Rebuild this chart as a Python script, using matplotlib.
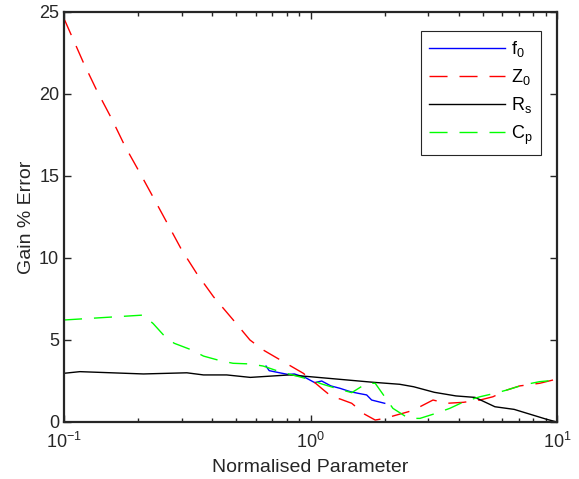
import matplotlib
matplotlib.use("Agg")
import matplotlib.pyplot as plt
from matplotlib.ticker import LogLocator, FixedLocator, NullFormatter

plt.rcParams["font.family"] = ["Liberation Sans", "DejaVu Sans"]
plt.rcParams["mathtext.fontset"] = "custom"
plt.rcParams["mathtext.rm"] = "Liberation Sans"
plt.rcParams["mathtext.it"] = "Liberation Sans"
plt.rcParams["axes.unicode_minus"] = False

# Data
f0_x = [0.66, 0.68, 0.75, 0.81, 0.86, 0.95, 1.04, 1.11, 1.21, 1.32, 1.45, 1.56, 1.69, 1.77, 2.0]
f0_y = [3.41, 3.13, 3.0, 2.9, 2.93, 2.72, 2.40, 2.5, 2.2, 2.05, 1.85, 1.75, 1.65, 1.34, 1.14]

z0_x = [0.1, 0.12, 0.136, 0.156, 0.177, 0.203, 0.234, 0.265, 0.3, 0.345, 0.404, 0.486,
        0.568, 0.643, 0.775, 0.935, 1.03, 1.13, 1.22, 1.32, 1.47, 1.66, 1.83, 2.0, 2.24,
        2.5, 2.78, 3.14, 3.57, 4.17, 4.87, 5.5, 6.26, 7.06, 8.5, 10.0]
z0_y = [24.6, 21.9, 20.2, 18.5, 16.8, 15.2, 13.5, 12.0, 10.5, 9.07, 7.64, 6.22,
        5.0, 4.39, 3.68, 2.97, 2.46, 1.95, 1.54, 1.40, 1.14, 0.47, 0.12, 0.22, 0.43,
        0.63, 0.93, 1.34, 1.14, 1.2, 1.34, 1.54, 1.95, 2.2, 2.36, 2.62]

rs_x = [0.1, 0.116, 0.21, 0.315, 0.368, 0.457, 0.57, 0.82, 1.0, 1.32, 1.8, 2.3, 2.62,
        3.18, 3.89, 4.65, 5.6, 6.7, 9.1, 10.0]
rs_y = [2.97, 3.07, 2.93, 3.0, 2.87, 2.87, 2.72, 2.87, 2.76, 2.6, 2.42, 2.30, 2.15,
        1.81, 1.59, 1.50, 0.93, 0.77, 0.16, 0.0]

cp_x = [0.1, 0.21, 0.23, 0.257, 0.28, 0.33, 0.368, 0.43, 0.485, 0.57, 0.643, 0.75, 0.88,
        1.01, 1.11, 1.30, 1.47, 1.69, 1.83, 2.0, 2.16, 2.3, 2.5, 2.78, 3.23, 3.67, 4.2,
        4.87, 5.6, 6.26, 7.3, 8.5, 10.0]
cp_y = [6.22, 6.52, 6.0, 5.2, 4.8, 4.39, 4.02, 3.74, 3.58, 3.54, 3.41, 3.07, 2.80,
        2.56, 2.32, 2.01, 1.79, 2.36, 2.36, 1.54, 0.83, 0.57, 0.22, 0.22, 0.53, 0.83, 1.24,
        1.54, 1.75, 1.95, 2.26, 2.46, 2.56]

y_ticks = [0, 5, 10, 15, 20, 25]

fig = plt.figure(figsize=(5.79, 4.79), dpi=100)
ax = fig.add_axes([64 / 579, 57 / 479, 493 / 579, 410 / 479])

dash = (13, 8.6)
ax.plot(f0_x, f0_y, color="#0000ff", lw=1, label=r"f$_\mathrm{0}$")
ax.plot(z0_x, z0_y, color="#ff0000", lw=1, dashes=dash, label=r"Z$_\mathrm{0}$")
ax.plot(rs_x, rs_y, color="black", lw=1, label=r"R$_\mathrm{s}$")
ax.plot(cp_x, cp_y, color="#00ff00", lw=1, dashes=dash, label=r"C$_\mathrm{p}$")

ax.set_xscale("log")
ax.set_xlim(0.1, 10)
ax.set_ylim(0, 25)
ax.yaxis.set_major_locator(FixedLocator(y_ticks))
ax.xaxis.set_minor_locator(LogLocator(base=10, subs=range(2, 10)))
ax.xaxis.set_minor_formatter(NullFormatter())

ax.tick_params(which="both", direction="in", top=True, right=True,
               labelsize=13, colors="#262626", width=1)
ax.tick_params(which="major", length=5)
ax.tick_params(which="minor", length=3)
ax.tick_params(axis="x", pad=7)
for s in ax.spines.values():
    s.set_linewidth(1.6)
    s.set_color("#262626")

ax.set_xlabel("Normalised Parameter", fontsize=14, color="#262626", labelpad=5)
ax.set_ylabel("Gain % Error", fontsize=14, color="#262626", labelpad=3)

leg = ax.legend(loc="upper right", bbox_to_anchor=(541 / 579, 1 - 31 / 479),
                bbox_transform=fig.transFigure, fontsize=13, handlelength=4.2,
                fancybox=False, edgecolor="#262626", framealpha=1,
                borderpad=0.45, labelspacing=0.45, handletextpad=0.35,
                borderaxespad=0)
leg.get_frame().set_linewidth(0.8)

fig.savefig("out.png", dpi=100)
